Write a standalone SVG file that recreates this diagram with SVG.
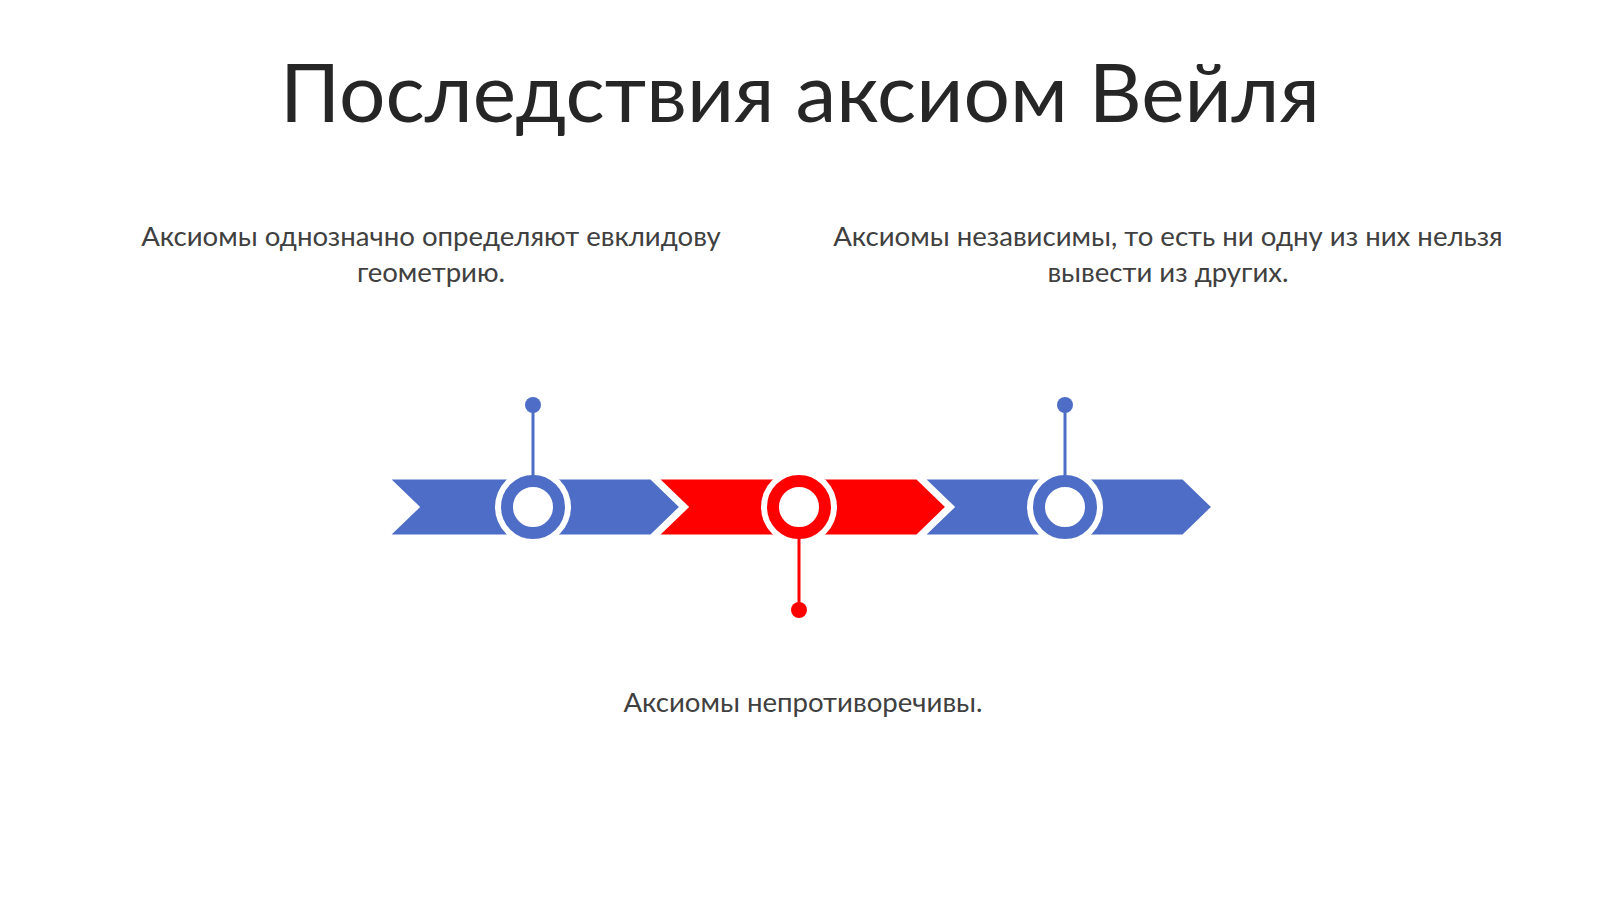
<svg xmlns="http://www.w3.org/2000/svg" width="1600" height="899" viewBox="0 0 1600 899">
<style>
.t{font-family:Lato,"Open Sans","Liberation Sans",sans-serif;fill:#404040;text-anchor:middle}
.title{font-size:82px;fill:#262626}
.lbl{font-size:27.6px}
.blue{fill:#4D6DC6}
.red{fill:#FF0000}
.seg{stroke:#fff;stroke-width:3}
</style>
<rect width="1600" height="899" fill="#fff"/>
<text class="t title" x="800" y="122">Последствия аксиом Вейля</text>
<g id="label1"><text class="t lbl" x="431" y="246">Аксиомы однозначно определяют евклидову</text><text class="t lbl" x="431" y="282">геометрию.</text></g>
<g id="label2"><text class="t lbl" x="1168" y="246">Аксиомы независимы, то есть ни одну из них нельзя</text><text class="t lbl" x="1168" y="282">вывести из других.</text></g>
<g id="label3"><text class="t lbl" x="803" y="712">Аксиомы непротиворечивы.</text></g>
<g id="band">
<polygon id="seg1" class="seg blue" points="388,478 651,478 681,507 651,536 388,536 418,507"/>
<polygon id="seg2" class="seg red" points="657,478 917,478 947,507 917,536 657,536 687,507"/>
<polygon id="seg3" class="seg blue" points="923,478 1183,478 1213,507 1183,536 923,536 953,507"/>
</g>
<g id="node1"><circle cx="533" cy="507" r="38" fill="#fff"/><circle cx="533" cy="507" r="26" fill="#fff" stroke="#4D6DC6" stroke-width="12"/><circle cx="533" cy="405" r="8" fill="#4D6DC6"/></g>
<g id="node2"><circle cx="799" cy="507" r="38" fill="#fff"/><circle cx="799" cy="507" r="26" fill="#fff" stroke="#FF0000" stroke-width="12"/><circle cx="799" cy="610" r="8" fill="#FF0000"/></g>
<g id="node3"><circle cx="1065" cy="507" r="38" fill="#fff"/><circle cx="1065" cy="507" r="26" fill="#fff" stroke="#4D6DC6" stroke-width="12"/><circle cx="1065" cy="405" r="8" fill="#4D6DC6"/></g>
<g id="connectors">
<line x1="533" y1="405" x2="533" y2="477" stroke="#4D6DC6" stroke-width="3"/>
<line x1="799" y1="537" x2="799" y2="610" stroke="#FF0000" stroke-width="3"/>
<line x1="1065" y1="405" x2="1065" y2="477" stroke="#4D6DC6" stroke-width="3"/>
</g>
</svg>
